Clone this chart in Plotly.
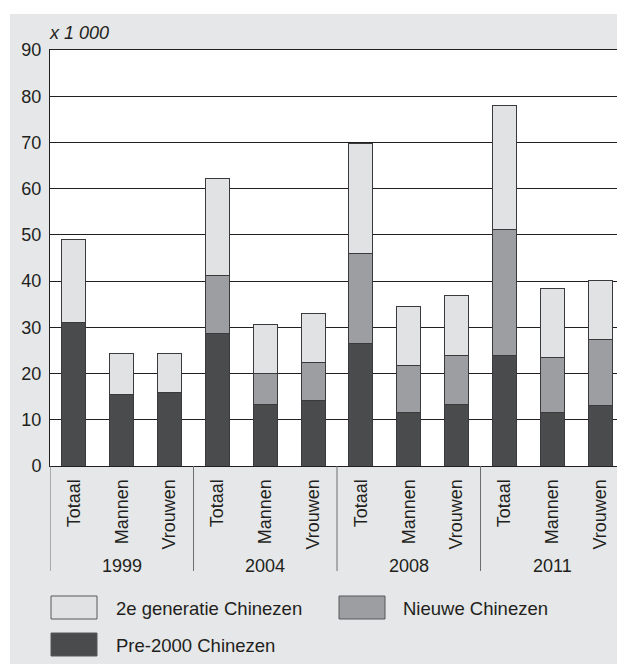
import plotly.graph_objects as go

years = ["1999", "2004", "2008", "2011"]
groups = ["Totaal", "Mannen", "Vrouwen"]
categories = [g for y in years for g in groups]

pre2000 = [31.0, 15.4, 15.8, 28.7, 13.3, 14.2, 26.6, 11.5, 13.3, 24.0, 11.6, 13.1]
nieuwe = [0.0, 0.0, 0.0, 12.6, 6.8, 8.2, 19.4, 10.2, 10.5, 27.1, 11.9, 14.2]
tweede_gen = [17.9, 8.9, 8.5, 20.9, 10.6, 10.6, 23.8, 12.8, 13.1, 26.9, 14.9, 12.8]

y_ticks = [0, 10, 20, 30, 40, 50, 60, 70, 80, 90]

series_names = ["Pre-2000 Chinezen", "Nieuwe Chinezen", "2e generatie Chinezen"]
colors = {"Pre-2000 Chinezen": "#4a4b4d", "Nieuwe Chinezen": "#9d9ea1", "2e generatie Chinezen": "#e1e2e4"}

# page body has an 8px margin; figure is sized so that it fills the window
OFF = 8
W, H = 625 - OFF, 664 - OFF
L, T = 50 - OFF, 50 - OFF
pw, ph = 574, 416
R = W - L - pw
B = H - T - ph

def px_x(p):  # window pixel -> paper x
    return (p - OFF - L) / pw

def px_y(p):  # window pixel -> paper y
    return (T + ph - (p - OFF)) / ph

FONT = "Liberation Sans, Arial, sans-serif"
TXT = "#231f20"

xs = list(range(len(categories)))
fig = go.Figure()
for name, vals in zip(series_names, [pre2000, nieuwe, tweede_gen]):
    fig.add_trace(go.Bar(
        x=xs, y=vals, name=name,
        marker=dict(color=colors[name], line=dict(color="#3a3a3c", width=1)),
        showlegend=False,
    ))

shapes = []
# white margins outside the grey panel
shapes.append(dict(type="rect", xref="paper", yref="paper", x0=px_x(-20), x1=px_x(700),
                   y0=px_y(14), y1=px_y(-20), fillcolor="white", line=dict(width=0), layer="above"))
shapes.append(dict(type="rect", xref="paper", yref="paper", x0=px_x(-20), x1=px_x(10),
                   y0=px_y(700), y1=px_y(-20), fillcolor="white", line=dict(width=0), layer="above"))
# group separators
for b in [-0.5, 2.5, 5.5, 8.5, 11.5]:
    shapes.append(dict(type="line", xref="x", yref="paper", x0=b, x1=b,
                       y0=0, y1=px_y(571), line=dict(color="#6d6e70", width=1)))

annotations = []
for i, yr in enumerate(years):
    annotations.append(dict(x=i * 3 + 1, y=px_y(566), xref="x", yref="paper", text=yr,
                            showarrow=False, font=dict(size=18, color=TXT, family=FONT),
                            xanchor="center", yanchor="middle"))
annotations.append(dict(x=0, y=px_y(33), xref="paper", yref="paper", text="<i>x 1 000</i>",
                        showarrow=False, font=dict(size=18, color=TXT, family=FONT),
                        xanchor="left", yanchor="middle", xshift=-3))

# legend
legend_items = [
    ("2e generatie Chinezen", 51, 596, 117),
    ("Nieuwe Chinezen", 339, 596, 404),
    ("Pre-2000 Chinezen", 51, 633, 117),
]
for name, bx, by, tx in legend_items:
    shapes.append(dict(type="rect", xref="paper", yref="paper",
                       x0=px_x(bx), x1=px_x(bx + 46), y0=px_y(by), y1=px_y(by + 23),
                       fillcolor=colors[name], line=dict(color="#58595b", width=1)))
    annotations.append(dict(x=px_x(tx), y=px_y(by + 12), xref="paper", yref="paper", text=name,
                            showarrow=False, font=dict(size=18.5, color=TXT, family=FONT),
                            xanchor="left", yanchor="middle", xshift=-3))

fig.update_layout(
    width=W, height=H,
    margin=dict(l=L, r=R, t=T, b=B, pad=0),
    paper_bgcolor="#e6e7e8",
    plot_bgcolor="white",
    barmode="stack",
    bargap=0.5,
    showlegend=False,
    font=dict(family=FONT, size=18, color=TXT),
    shapes=shapes,
    annotations=annotations,
    xaxis=dict(
        range=[-0.5, 11.5], tickmode="array", tickvals=xs, ticktext=categories,
        tickangle=-90, showgrid=False, showline=True, mirror=True,
        linecolor=TXT, linewidth=1, ticks="", zeroline=False,
        tickfont=dict(size=18, color=TXT, family=FONT), ticklabelstandoff=5,
    ),
    yaxis=dict(
        range=[0, 90], tickmode="array", tickvals=y_ticks,
        showgrid=True, gridcolor=TXT, gridwidth=1,
        showline=True, mirror=True, linecolor=TXT, linewidth=1,
        ticks="", zeroline=False, tickfont=dict(size=18, color=TXT, family=FONT),
        ticklabelstandoff=4,
    ),
)

fig.write_html("out.html")
